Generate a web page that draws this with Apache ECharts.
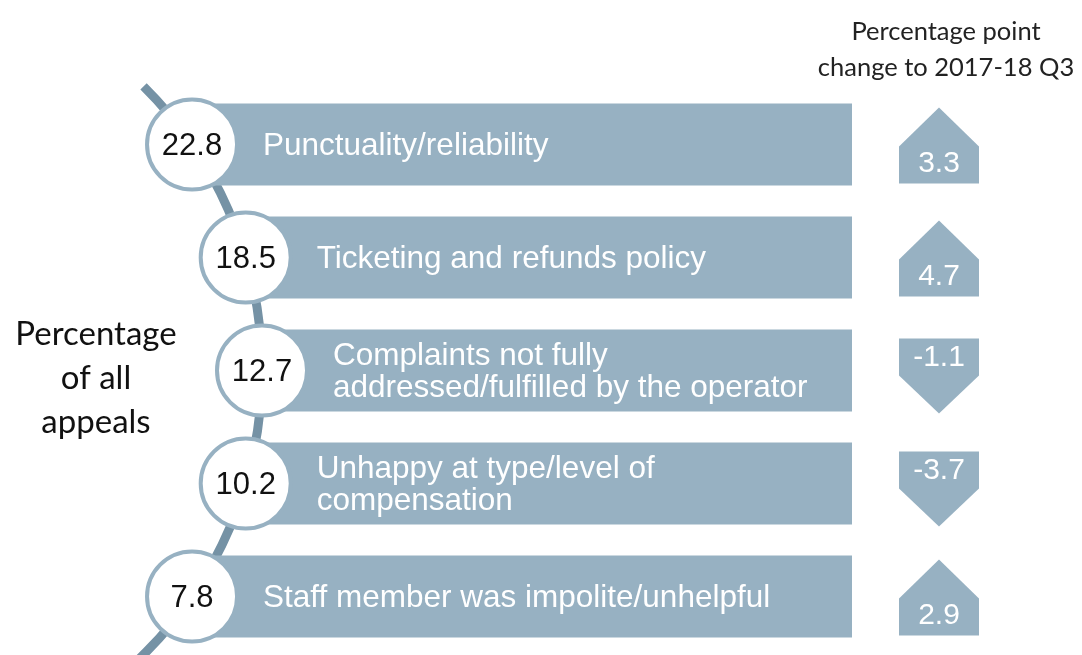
<!DOCTYPE html>
<html>
<head>
<meta charset="utf-8">
<script src="https://cdn.jsdelivr.net/npm/echarts@6/dist/echarts.min.js"></script>
<style>
  html, body { margin: 0; padding: 0; background: #fff; }
  #main { width: 1082px; height: 655px; }
</style>
</head>
<body>
<div id="main"></div>
<script>
  // reasons for appeals, top to bottom
  var reasons = [
    'Punctuality/reliability',
    'Ticketing and refunds policy',
    'Complaints not fully\naddressed/fulfilled by the operator',
    'Unhappy at type/level of\ncompensation',
    'Staff member was impolite/unhelpful'
  ]
  // percentage of all appeals
  var shares = [22.8, 18.5, 12.7, 10.2, 7.8]
  // percentage point change to 2017-18 Q3
  var changes = [3.3, 4.7, -1.1, -3.7, 2.9]

  var barColor = '#97b1c2'
  var lineColor = '#7592a5'
  var barRight = 852
  var bubbleR = 45
  var arcR = 400
  var peakX = 262
  var arrowX = 939

  // x of the connector curve at a given height
  function curveX(y, midY) {
    var dy = y - midY
    return peakX - (arcR - Math.sqrt(arcR * arcR - dy * dy))
  }

  var chart = echarts.init(document.getElementById('main'))

  chart.setOption({
    animation: false,
    grid: { left: 0, right: 0, top: 88, bottom: 2 },
    xAxis: { type: 'value', min: 0, max: 1, show: false },
    yAxis: { type: 'category', data: reasons, inverse: true, show: false },
    graphic: [
      {
        type: 'text',
        x: 96,
        y: 312,
        style: {
          text: 'Percentage\nof all\nappeals',
          font: '33px Lato',
          fill: '#111',
          align: 'center',
          lineHeight: 44
        }
      },
      {
        type: 'text',
        x: 946,
        y: 14,
        style: {
          text: 'Percentage point\nchange to 2017-18 Q3',
          font: '25.5px Lato',
          fill: '#222',
          align: 'center',
          lineHeight: 36
        }
      }
    ],
    series: [
      {
        // connector curve behind the bubbles
        type: 'custom',
        data: [[0, 2]],
        encode: { x: 0, y: 1 },
        silent: true,
        renderItem: function (params, api) {
          var mid = api.coord([0, 2])[1]
          return {
            type: 'arc',
            shape: { cx: peakX - arcR, cy: mid, r: arcR, startAngle: -0.79, endAngle: 0.9, clockwise: true },
            style: { stroke: lineColor, lineWidth: 9, fill: null }
          }
        }
      },
      {
        type: 'custom',
        data: shares.map(function (v, i) { return [0, i, v] }),
        encode: { x: 0, y: 1 },
        silent: true,
        renderItem: function (params, api) {
          var i = api.value(1)
          var cy = api.coord([0, i])[1]
          var mid = api.coord([0, 2])[1]
          var cx = curveX(cy, mid)
          return {
            type: 'group',
            children: [
              {
                type: 'rect',
                shape: { x: cx, y: cy - 41, width: barRight - cx, height: 82 },
                style: { fill: barColor }
              },
              {
                type: 'circle',
                shape: { cx: cx, cy: cy, r: bubbleR },
                style: { fill: '#fff', stroke: barColor, lineWidth: 4 }
              },
              {
                type: 'text',
                x: cx, y: cy + 2,
                style: {
                  text: api.value(2).toFixed(1),
                  font: '31px "Liberation Sans"',
                  fill: '#111',
                  align: 'center',
                  verticalAlign: 'middle'
                }
              },
              {
                type: 'text',
                x: cx + 71, y: cy + 2,
                style: {
                  text: reasons[i],
                  font: '31.5px "Liberation Sans"',
                  fill: '#fff',
                  align: 'left',
                  verticalAlign: 'middle',
                  lineHeight: 32
                }
              }
            ]
          }
        }
      },
      {
        // up / down arrows with the change
        type: 'custom',
        data: changes.map(function (v, i) { return [0, i, v] }),
        encode: { x: 0, y: 1 },
        silent: true,
        renderItem: function (params, api) {
          var cy = api.coord([0, api.value(1)])[1]
          var v = api.value(2)
          var x = arrowX
          var pts, ty
          if (v >= 0) {
            pts = [[x - 40, cy + 39], [x - 40, cy + 2], [x, cy - 37], [x + 40, cy + 2], [x + 40, cy + 39]]
            ty = cy + 19
          } else {
            pts = [[x - 40, cy - 32], [x + 40, cy - 32], [x + 40, cy + 5], [x, cy + 43], [x - 40, cy + 5]]
            ty = cy - 13
          }
          return {
            type: 'group',
            children: [
              { type: 'polygon', shape: { points: pts }, style: { fill: barColor } },
              {
                type: 'text',
                x: x, y: ty,
                style: {
                  text: v.toFixed(1),
                  font: '30px "Liberation Sans"',
                  fill: '#fff',
                  align: 'center',
                  verticalAlign: 'middle'
                }
              }
            ]
          }
        }
      }
    ]
  })
</script>
</body>
</html>
